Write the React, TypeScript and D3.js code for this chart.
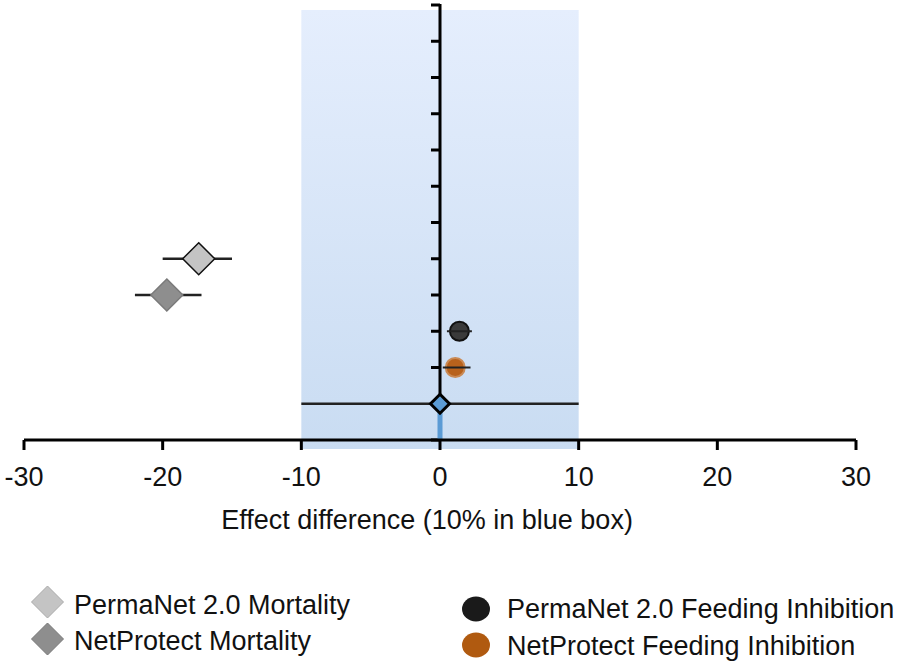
import React from "react";
import * as d3 from "d3";

const xTicks = [-30, -20, -10, 0, 10, 20, 30];
const yTicks = [0, 1, 2, 3, 4, 5, 6, 7, 8, 9, 10, 11, 12];
const seriesNames = [
  "PermaNet 2.0 Mortality",
  "NetProtect Mortality",
  "PermaNet 2.0 Feeding Inhibition",
  "NetProtect Feeding Inhibition",
  "Reference",
];
const estimates = [-17.4, -19.7, 1.4, 1.1, 0];
const lowerCI = [-20.0, -22.0, 0.5, 0.2, -10];
const upperCI = [-15.0, -17.2, 2.3, 2.2, 10];
const rows = [5, 4, 3, 2, 1];
const shapes = ["diamond", "diamond", "circle", "circle", "diamond"];
const fills = ["#c4c4c4", "#8e8e8e", "#3a3a3a", "#b8621c", "#5b9bd5"];
const strokes = ["#111", "#7a7a7a", "#111", "#c98a55", "#000"];
const boxRange = [-10, 10];

const W = 898;
const H = 664;
const FONT = "Liberation Sans, Arial, sans-serif";

export default function App() {
  const x = d3.scaleLinear().domain([-30, 30]).range([24, 856]);
  const y = d3.scaleLinear().domain([0, 12]).range([440, 5]);
  const x0 = x(0);

  const diamond = (cx: number, cy: number, r: number) =>
    `M${cx},${cy - r}L${cx + r},${cy}L${cx},${cy + r}L${cx - r},${cy}Z`;

  return (
    <svg
      width={W}
      height={H}
      style={{ position: "absolute", left: 0, top: 0, background: "#fff" }}
      fontFamily={FONT}
    >
      <defs>
        <linearGradient id="boxg" x1="0" y1="0" x2="0" y2="1">
          <stop offset="0" stopColor="#e5eefd" />
          <stop offset="1" stopColor="#c9dcf2" />
        </linearGradient>
      </defs>
      {/* blue box */}
      <rect
        x={x(boxRange[0])}
        y={10}
        width={x(boxRange[1]) - x(boxRange[0])}
        height={449 - 10}
        fill="url(#boxg)"
      />
      {/* y axis */}
      <line x1={x0} x2={x0} y1={y(12) - 1} y2={y(0)} stroke="#000" strokeWidth={3} />
      {yTicks.map((t) => (
        <line key={t} x1={x0 - 9} x2={x0} y1={y(t)} y2={y(t)} stroke="#000" strokeWidth={3} />
      ))}
      {/* error bars and markers */}
      {seriesNames.map((s, i) => {
        const cy = y(rows[i]);
        const cx = x(estimates[i]);
        const bar = (
          <line
            x1={x(lowerCI[i])}
            x2={x(upperCI[i])}
            y1={cy}
            y2={cy}
            stroke="#222"
            strokeWidth={shapes[i] === "circle" ? 2 : 2.5}
          />
        );
        if (shapes[i] === "circle") {
          return (
            <g key={s}>
              <circle cx={cx} cy={cy} r={9.5} fill={fills[i]} stroke={strokes[i]} strokeWidth={2} />
              {bar}
            </g>
          );
        }
        const r = i === 4 ? 9.5 : 16;
        return (
          <g key={s}>
            {bar}
            {i === 4 && (
              <line x1={cx} x2={cx} y1={cy} y2={y(0)} stroke="#5b9bd5" strokeWidth={5} />
            )}
            <path d={diamond(cx, cy, r)} fill={fills[i]} stroke={strokes[i]} strokeWidth={i === 4 ? 3 : 1.5} />
          </g>
        );
      })}
      {/* x axis */}
      <line x1={x(-30)} x2={x(30)} y1={y(0)} y2={y(0)} stroke="#000" strokeWidth={3} />
      {xTicks.map((t) => (
        <g key={t}>
          <line x1={x(t)} x2={x(t)} y1={y(0)} y2={y(0) + 10} stroke="#000" strokeWidth={3} />
          <text x={x(t)} y={486} textAnchor="middle" fontSize={27} fill="#111">
            {t}
          </text>
        </g>
      ))}
      <text x={x0 - 13} y={529} textAnchor="middle" fontSize={27} fill="#111">
        Effect difference (10% in blue box)
      </text>
      {/* legend */}
      <path d={diamond(47.5, 602, 16)} fill={fills[0]} stroke="#aaa" strokeWidth={1} />
      <text x={74} y={614} fontSize={27} fill="#111">{seriesNames[0]}</text>
      <path d={diamond(47.5, 639, 16)} fill={fills[1]} stroke="#777" strokeWidth={1} />
      <text x={74} y={650} fontSize={27} fill="#111">{seriesNames[1]}</text>
      <ellipse cx={476} cy={609} rx={14} ry={12.5} fill="#1a1a1a" />
      <text x={507} y={618} fontSize={27} fill="#111">{seriesNames[2]}</text>
      <ellipse cx={476} cy={645} rx={14} ry={12.5} fill="#b05a10" />
      <text x={507} y={655} fontSize={27} fill="#111">{seriesNames[3]}</text>
    </svg>
  );
}
